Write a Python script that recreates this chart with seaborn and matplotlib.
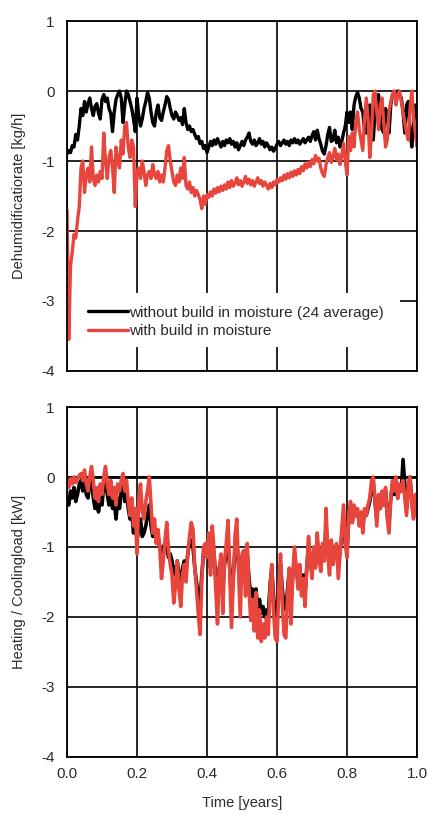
import numpy as np
import pandas as pd
import seaborn as sns
import matplotlib.pyplot as plt
from matplotlib.patches import Rectangle

# time grid: 201 samples over one year
# top panel: dehumidification rate [kg/h]
top_black = [
    -0.90, -0.85, -0.88, -0.78, -0.80, -0.62, -0.70, -0.50, -0.25, -0.35, -0.15,
    -0.30, -0.18, -0.10, -0.25, -0.35, -0.22, -0.18, -0.32, -0.40, -0.12,
    -0.05, -0.15, -0.10, -0.25, -0.32, -0.58, -0.30, -0.12, -0.05, 0.00,
    -0.10, -0.45, -0.20, 0.00, -0.05, -0.15, -0.25, -0.40, -0.58, -0.10,
    -0.35, -0.50, -0.40, -0.25, -0.15, -0.02, -0.10, -0.30, -0.45, -0.50,
    -0.30, -0.20, -0.38, -0.42, -0.30, -0.20, -0.08, -0.12, -0.25, -0.35,
    -0.40, -0.30, -0.35, -0.42, -0.38, -0.48, -0.25, -0.45, -0.55, -0.50,
    -0.58, -0.55, -0.62, -0.68, -0.65, -0.75, -0.72, -0.82, -0.78, -0.88,
    -0.80, -0.72, -0.78, -0.70, -0.76, -0.68, -0.74, -0.80, -0.72, -0.78,
    -0.70, -0.74, -0.68, -0.76, -0.72, -0.80, -0.74, -0.84, -0.78, -0.72,
    -0.78, -0.70, -0.66, -0.60, -0.72, -0.76, -0.70, -0.78, -0.74, -0.68,
    -0.76, -0.72, -0.80, -0.74, -0.78, -0.84, -0.80, -0.86, -0.82, -0.76,
    -0.72, -0.78, -0.74, -0.70, -0.76, -0.72, -0.78, -0.70, -0.74, -0.68,
    -0.74, -0.70, -0.76, -0.72, -0.68, -0.74, -0.70, -0.66, -0.72, -0.64,
    -0.58, -0.70, -0.56, -0.68, -0.76, -0.86, -0.90, -0.78, -0.62, -0.52,
    -0.72, -0.70, -0.56, -0.74, -0.66, -0.80, -0.72, -0.60, -0.50, -0.30,
    -0.45, -0.30, -0.55, -0.20, -0.08, -0.02, -0.10, -0.25, -0.30, -0.55,
    -0.60, -0.25, -0.20, -0.55, -0.70, -0.30, -0.10, -0.05, -0.35, -0.55,
    -0.60, -0.25, -0.35, -0.60, -0.20, -0.05, -0.02, -0.10, 0.00, -0.05,
    -0.10, -0.30, -0.60, -0.20, -0.15, -0.55, -0.80, -0.50, -0.20, -0.40,
]
top_red = [
    -1.70, -3.55, -2.50, -2.30, -2.05, -2.10, -1.85, -1.65, -1.10, -1.00, -1.45,
    -1.20, -1.10, -1.30, -0.80, -1.25, -1.35, -1.20, -1.30, -1.15, -1.25,
    -0.60, -1.00, -1.25, -0.95, -0.85, -1.10, -1.45, -0.80, -1.00, -1.10,
    -0.70, -0.90, -0.50, -0.45, -0.80, -0.95, -0.70, -0.80, -1.65, -1.15,
    -1.10, -1.25, -1.00, -1.15, -1.35, -1.20, -1.15, -1.25, -1.05, -1.20,
    -1.25, -1.15, -1.30, -1.20, -1.30, -1.10, -0.85, -0.78, -1.00, -1.15,
    -1.30, -1.35, -1.20, -1.30, -1.10, -1.25, -0.95, -1.35, -1.40, -1.30,
    -1.45, -1.38, -1.50, -1.42, -1.48, -1.55, -1.68, -1.50, -1.62, -1.48,
    -1.52, -1.44, -1.50, -1.40, -1.46, -1.38, -1.44, -1.36, -1.42, -1.34,
    -1.40, -1.30, -1.38, -1.28, -1.36, -1.32, -1.24, -1.34, -1.28, -1.36,
    -1.30, -1.22, -1.32, -1.26, -1.34, -1.28, -1.36, -1.30, -1.24, -1.32,
    -1.28, -1.36, -1.30, -1.34, -1.40, -1.32, -1.38, -1.30, -1.34, -1.26,
    -1.30, -1.24, -1.28, -1.20, -1.26, -1.18, -1.24, -1.16, -1.22, -1.14,
    -1.20, -1.12, -1.18, -1.08, -1.14, -1.04, -1.10, -1.02, -1.08, -0.98,
    -1.04, -0.92, -1.00, -0.96, -1.10, -1.18, -1.22, -1.05, -0.95, -0.88,
    -1.02, -0.94, -0.82, -0.98, -0.90, -1.05, -0.92, -0.75, -1.00, -1.20,
    -0.65, -0.85, -0.60, -0.80, -0.45, -0.30, -0.55, -0.70, -0.85, -0.40,
    -0.10, -0.40, -0.95, -0.60, -0.05, 0.00, -0.30, -0.55, -0.20, -0.10,
    -0.45, -0.80, -0.70, -0.30, -0.15, -0.05, 0.00, -0.20, -0.05, 0.00,
    -0.15, -0.30, -0.45, -0.60, -0.70, -0.25, 0.00, -0.35, -0.60, -0.80,
]
# bottom panel: heating / cooling load [kW]
bottom_black = [
    -0.35, -0.40, -0.20, -0.30, -0.15, -0.35, -0.25, -0.10, -0.05, -0.20, 0.00,
    -0.25, -0.30, -0.10, 0.05, -0.30, -0.45, -0.35, -0.50, -0.30, -0.40,
    -0.10, 0.00, -0.25, -0.40, -0.20, -0.45, -0.35, -0.60, -0.30, -0.45,
    -0.20, -0.05, -0.35, -0.25, -0.45, -0.60, -0.50, -0.80, -0.65, -0.90,
    -0.75, -0.60, -0.85, -0.80, -0.70, -0.55, -0.40, -0.70, -0.85, -0.75,
    -0.90, -0.85, -1.00, -1.10, -1.00, -0.95, -1.00, -1.15, -1.10, -1.20,
    -1.40, -1.35, -1.20, -1.40, -1.55, -1.30, -1.20, -1.35, -1.10, -0.95,
    -0.90, -1.00, -1.30, -1.50, -1.70, -1.80, -1.40, -1.10, -1.05, -1.15,
    -1.00, -1.30, -0.95, -1.10, -1.45, -1.70, -1.30, -1.20, -1.60, -1.25,
    -1.10, -0.95, -1.30, -1.75, -1.40, -1.05, -0.95, -1.25, -1.60, -1.15,
    -1.10, -1.50, -1.10, -1.45, -1.70, -1.60, -1.80, -1.60, -1.90, -1.75,
    -1.95, -1.85, -2.00, -1.90, -1.95, -1.55, -1.30, -1.70, -2.00, -2.00,
    -1.55, -1.25, -1.60, -1.85, -1.90, -1.60, -1.35, -1.75, -1.40, -1.20,
    -1.30, -1.50, -1.30, -1.55, -1.40, -1.65, -1.30, -1.00, -1.20, -1.35,
    -1.05, -1.25, -0.95, -1.15, -1.25, -1.00, -1.15, -0.70, -1.05, -1.25,
    -0.95, -1.15, -1.05, -1.00, -1.30, -1.05, -0.85, -0.60, -0.95, -1.05,
    -0.60, -0.45, -0.65, -0.45, -0.55, -0.50, -0.65, -0.55, -0.70, -0.50,
    -0.55, -0.45, -0.35, -0.15, -0.10, -0.35, -0.60, -0.30, -0.45, -0.25,
    -0.40, -0.20, -0.55, -0.65, -0.30, -0.10, -0.25, -0.05, -0.30, -0.15,
    -0.20, 0.25, -0.10, -0.45, -0.15, 0.00, -0.35, -0.50, -0.30, -0.50,
]
bottom_red = [
    -0.05, -0.15, -0.02, -0.10, 0.00, -0.08, -0.03, 0.02, 0.05, -0.05, 0.10,
    -0.10, -0.20, 0.00, 0.15, -0.05, -0.30, -0.15, -0.35, -0.10, -0.25,
    0.00, 0.15, -0.10, -0.25, -0.05, -0.30, -0.15, -0.40, -0.10, -0.20,
    -0.05, 0.05, -0.20, -0.05, -0.35, -0.55, -0.30, -0.70, -0.45, -1.10,
    -0.30, -0.10, -0.50, -0.60, -0.35, -0.20, 0.00, -0.40, -0.80, -0.60,
    -0.95, -0.75, -1.00, -1.45, -1.20, -0.90, -0.65, -1.05, -1.25, -1.40,
    -1.80, -1.55, -1.20, -1.60, -1.85, -1.40, -1.25, -1.50, -1.10, -0.85,
    -0.65, -0.75, -1.30, -1.60, -1.95, -2.25, -1.50, -1.00, -0.95, -1.15,
    -0.80, -1.40, -0.70, -1.05, -1.60, -2.10, -1.30, -1.10, -1.95, -1.20,
    -0.95, -0.62, -1.40, -2.15, -1.50, -0.85, -0.60, -1.30, -2.00, -1.10,
    -1.05, -1.70, -0.95, -1.60, -2.05, -1.75, -2.20, -1.65, -2.30, -1.90,
    -2.35, -2.10, -2.30, -2.00, -2.25, -1.60, -1.25, -1.90, -2.30, -2.35,
    -1.60, -1.10, -1.80, -2.25, -2.30, -1.70, -1.30, -2.10, -1.40, -1.00,
    -1.30, -1.60, -1.25, -1.70, -1.45, -1.85, -1.30, -0.85, -1.20, -1.45,
    -1.00, -1.30, -0.80, -1.15, -1.35, -0.95, -1.20, -0.45, -1.10, -1.40,
    -0.90, -1.25, -1.05, -0.95, -1.45, -1.10, -0.75, -0.40, -0.95, -1.15,
    -0.55, -0.35, -0.65, -0.40, -0.55, -0.45, -0.70, -0.50, -0.80, -0.45,
    -0.55, -0.40, -0.30, -0.05, 0.00, -0.35, -0.70, -0.25, -0.45, -0.20,
    -0.40, -0.15, -0.60, -0.80, -0.30, -0.05, -0.20, 0.00, -0.30, -0.10,
    -0.20, -0.05, -0.30, -0.55, -0.10, 0.00, -0.40, -0.60, -0.25, -0.55,
]

legend_labels = ["without build in moisture (24 average)", "with build in moisture"]
y_ticks = [1, 0, -1, -2, -3, -4]
x_ticks = [0.0, 0.2, 0.4, 0.6, 0.8, 1.0]

red = "#e8453c"
ink = "#2a2a2a"

sns.set_theme(style="white")
plt.rcParams["font.family"] = ["Liberation Sans", "DejaVu Sans"]
plt.rcParams["axes.unicode_minus"] = False

fig = plt.figure(figsize=(4.29, 8.15), dpi=100)
ax_top = fig.add_axes([0.1562, 0.5448, 0.8159, 0.4294])
ax_bot = fig.add_axes([0.1562, 0.0712, 0.8159, 0.4294])

t_top = np.linspace(0, 1, len(top_black))
t_bot = np.linspace(0, 1, len(bottom_black))

sns.lineplot(x=t_top, y=top_black, ax=ax_top, color="black", linewidth=2.4,
             estimator=None, sort=False, label=legend_labels[0])
sns.lineplot(x=np.linspace(0, 1, len(top_red)), y=top_red, ax=ax_top, color=red,
             linewidth=2.4, estimator=None, sort=False, label=legend_labels[1])

sns.lineplot(x=t_bot, y=bottom_black, ax=ax_bot, color="black", linewidth=2.6,
             estimator=None, sort=False, legend=False)
sns.lineplot(x=np.linspace(0, 1, len(bottom_red)), y=bottom_red, ax=ax_bot, color=red,
             linewidth=2.6, estimator=None, sort=False, legend=False)

for ax in (ax_top, ax_bot):
    ax.set_xlim(0, 1)
    ax.set_ylim(-4, 1)
    ax.set_yticks(y_ticks)
    ax.set_yticklabels([str(v) for v in y_ticks])
    ax.set_xticks(x_ticks)
    ax.grid(True, color="black", linewidth=1.2)
    ax.set_axisbelow(True)
    for s in ax.spines.values():
        s.set_color("black")
        s.set_linewidth(1.3)
    ax.tick_params(length=0, labelsize=11, labelcolor=ink, pad=9)

ax_bot.axhline(0, color="black", linewidth=2.0, zorder=1)

ax_top.set_xticklabels([])
ax_top.set_xlabel("")
ax_bot.set_xticklabels([f"{v:.1f}" for v in x_ticks])
ax_bot.tick_params(axis="x", pad=7)

ax_top.set_ylabel("Dehumidificatiorate [kg/h]", fontsize=10.5, color=ink)
ax_bot.set_ylabel("Heating / Coolingload [kW]", fontsize=10.5, color=ink)
ax_bot.set_xlabel("Time [years]", fontsize=10.5, color=ink, labelpad=11)
for ax in (ax_top, ax_bot):
    ax.yaxis.set_label_coords(-0.118, 0.5)

# white block behind the legend that hides the grid
ax_top.add_patch(Rectangle((0.0, 0.069), 0.951, 0.154, transform=ax_top.transAxes,
                           facecolor="white", edgecolor="none", zorder=1.5))

leg = ax_top.legend(loc="upper left", bbox_to_anchor=(0.06, 0.187), borderaxespad=0,
                    frameon=False, fontsize=11, handlelength=2.6,
                    handletextpad=0.1, labelspacing=0.31, borderpad=0)
for txt in leg.get_texts():
    txt.set_color(ink)

fig.savefig("out.png", dpi=100)
